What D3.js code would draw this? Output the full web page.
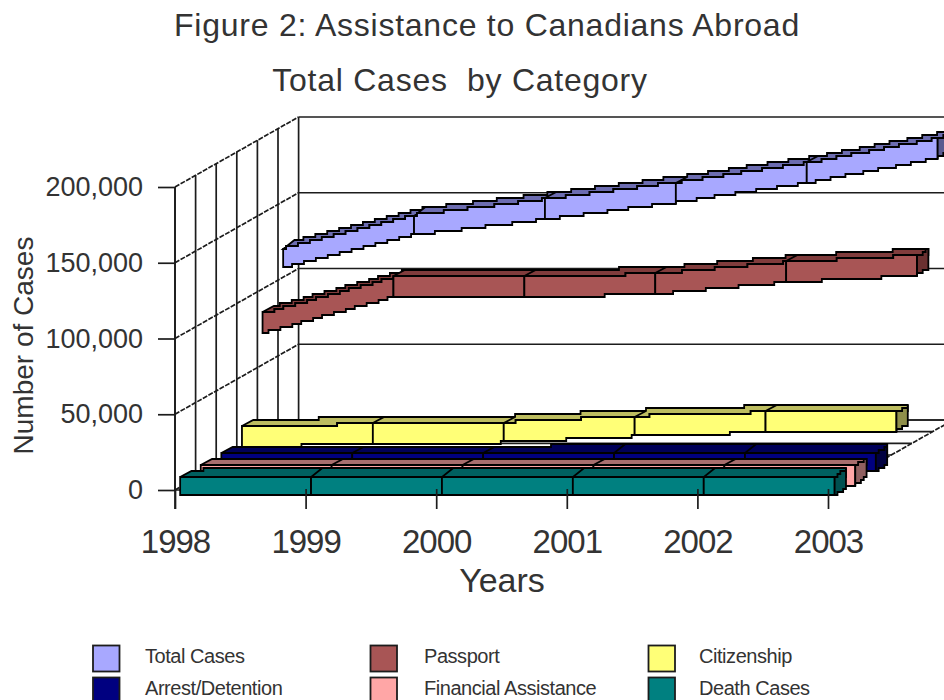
<!DOCTYPE html>
<html>
<head>
<meta charset="utf-8">
<script src="https://cdn.jsdelivr.net/npm/d3@7"></script>
<style>
  html, body { margin: 0; padding: 0; background: #fff; }
  svg { display: block; font-family: "Liberation Sans", Arial, sans-serif; }
  text { fill: #333; }
</style>
</head>
<body>
<svg id="chart" width="944" height="700"></svg>
<script>
// Assistance to Canadians Abroad: cases per year, by category
const years = [1998, 1999, 2000, 2001, 2002, 2003];
const yTicks = [0, 50000, 100000, 150000, 200000];

// Listed front to back along the depth axis
const seriesNames = ["Death Cases", "Financial Assistance", "Arrest/Detention", "Citizenship", "Passport", "Total Cases"];
const deathCases = [600, 650, 700, 700, 750, 750];
const financialAssistance = [400, 500, 500, 600, 600, 600];
const arrestDetention = [900, 1000, 1000, 1100, 1100, 1100];
const citizenship = [10500, 11800, 13100, 17100, 19700, 20100];
const passport = [77200, 101000, 101000, 103300, 111000, 115500];
const totalCases = [112700, 134500, 144800, 156000, 168800, 185000];
const seriesValues = [deathCases, financialAssistance, arrestDetention, citizenship, passport, totalCases];

// Front, top and side shades for each ribbon
const frontColors = ["#008080", "#ffa6a6", "#000080", "#ffff77", "#a85555", "#a8a8ff"];
const topColors = ["#006060", "#a86e6e", "#000058", "#bdbd60", "#803c3c", "#6c6cb0"];
const sideColors = ["#005050", "#906060", "#000040", "#8f8f4a", "#6b3030", "#5a5a90"];

const legendRows = [
  ["Total Cases", "Passport", "Citizenship"],
  ["Arrest/Detention", "Financial Assistance", "Death Cases"]
];

const ink = "#1c1c1c";
const svg = d3.select("#chart");

const x = d3.scalePoint().domain(years).range([175, 829.5]);
const xAxisScale = d3.scalePoint().domain(years).range([175, 828]);
const y = d3.scaleLinear().domain([0, 200000]).range([490, 187]);
const depthX = d3.scaleLinear().domain([0, 6]).range([0, 123.6]);
const depthY = d3.scaleLinear().domain([0, 6]).range([0, -70]);

// Project a (year, value, depth) triple onto the page
const px = (year, depth) => x(year) + depthX(depth);
const py = (value, depth) => y(value) + depthY(depth);

const firstYear = years[0];
const lastYear = years[years.length - 1];
const depthSteps = d3.range(0, 7);

// Ribbon edges are drawn on a coarse pixel grid, as low-resolution chart graphics render them
const cell = 3;
const stepLine = d3.line().curve(d3.curveStepAfter);
const edge = (a, b) => {
  const n = Math.max(1, Math.ceil(Math.abs(b[0] - a[0]) / cell));
  return d3.range(n + 1).map(k => {
    const t = k / n;
    return [a[0] + (b[0] - a[0]) * t, Math.round((a[1] + (b[1] - a[1]) * t) / cell) * cell];
  });
};
const facePath = (p, q, r, s) =>
  stepLine([...edge(p, q), ...edge(r, s)]) + "Z";

// ---- Walls and floor ----
const walls = svg.append("g").attr("fill", "none").attr("stroke", ink).attr("stroke-width", 1.7);
const slantDash = "5 1.4";

yTicks.forEach(v => {
  walls.append("line")
    .attr("stroke-dasharray", slantDash)
    .attr("x1", px(firstYear, 0)).attr("y1", py(v, 0))
    .attr("x2", px(firstYear, 6)).attr("y2", py(v, 6));
  walls.append("line")
    .attr("x1", px(firstYear, 6)).attr("x2", px(lastYear, 6))
    .attr("y1", py(v, 6)).attr("y2", py(v, 6));
});
depthSteps.forEach(d => {
  walls.append("line")
    .attr("x1", px(firstYear, d)).attr("x2", px(firstYear, d))
    .attr("y1", py(200000, d)).attr("y2", py(0, d));
  walls.append("line")
    .attr("x1", px(firstYear, d)).attr("x2", px(lastYear, d))
    .attr("y1", py(0, d)).attr("y2", py(0, d));
});
walls.append("line")
  .attr("stroke-dasharray", slantDash)
  .attr("x1", px(lastYear, 0)).attr("y1", py(0, 0))
  .attr("x2", px(lastYear, 6)).attr("y2", py(0, 6));

// ---- Ribbons, painted from the back row forward ----
const ribbonHeight = 20.5;
const frontDepth = 0.25;
const ribbonDepth = 0.55;

const ribbons = svg.append("g").attr("stroke", "#000").attr("stroke-width", 1.8).attr("stroke-linejoin", "miter");

d3.range(seriesNames.length - 1, -1, -1).forEach(i => {
  const values = seriesValues[i];
  const df = i + frontDepth;
  const db = df + ribbonDepth;
  const row = ribbons.append("g").attr("class", "ribbon");
  const half = ribbonHeight / 2;

  d3.pairs(years.map((yr, j) => ({ yr, v: values[j] }))).forEach(([a, b]) => {
    // top face
    row.append("path").attr("fill", topColors[i]).attr("d", facePath(
      [px(a.yr, df), py(a.v, df) - half],
      [px(b.yr, df), py(b.v, df) - half],
      [px(b.yr, db), py(b.v, db) - half],
      [px(a.yr, db), py(a.v, db) - half]
    ));
    // front face
    row.append("path").attr("fill", frontColors[i]).attr("d", facePath(
      [px(a.yr, df), py(a.v, df) - half],
      [px(b.yr, df), py(b.v, df) - half],
      [px(b.yr, df), py(b.v, df) + half],
      [px(a.yr, df), py(a.v, df) + half]
    ));
  });

  // closing side face at the last year
  const last = values[values.length - 1];
  row.append("path").attr("fill", sideColors[i]).attr("d", facePath(
    [px(lastYear, df), py(last, df) - half],
    [px(lastYear, db), py(last, db) - half],
    [px(lastYear, db), py(last, db) + half],
    [px(lastYear, df), py(last, df) + half]
  ));
});

// ---- Axes ----
const axisStroke = g => {
  g.selectAll(".tick line").attr("stroke", ink).attr("stroke-width", 1.7);
};

svg.append("g")
  .attr("transform", "translate(175,0)")
  .call(d3.axisLeft(y).tickValues(yTicks).tickSize(17).tickPadding(15)
    .tickFormat(d3.format(",")))
  .call(axisStroke)
  .call(g => g.select(".domain").remove())
  .call(g => g.selectAll("text").attr("font-size", 27).attr("font-family", null).attr("fill", "#333"));

svg.append("line").attr("x1", 175).attr("x2", 175).attr("y1", y(200000)).attr("y2", 509)
  .attr("stroke", ink).attr("stroke-width", 1.7);

svg.append("g")
  .attr("transform", "translate(0,489)")
  .call(d3.axisBottom(xAxisScale).tickSize(20).tickPadding(21).tickSizeOuter(0))
  .call(axisStroke)
  .call(g => g.select(".domain").remove())
  .call(g => g.selectAll("text").attr("font-size", 33).attr("letter-spacing", -1).attr("font-family", null).attr("fill", "#333"));

// ---- Titles ----
svg.append("text").attr("x", 487).attr("y", 36).attr("text-anchor", "middle")
  .attr("font-size", 32).attr("letter-spacing", 0.75)
  .text("Figure 2: Assistance to Canadians Abroad");
svg.append("text").attr("x", 460).attr("y", 91).attr("text-anchor", "middle")
  .attr("font-size", 32).attr("letter-spacing", 0.75).style("white-space", "pre")
  .text("Total Cases  by Category");
svg.append("text").attr("x", 502).attr("y", 592).attr("text-anchor", "middle")
  .attr("font-size", 34)
  .text("Years");
svg.append("text")
  .attr("transform", "translate(33,345.5) rotate(-90)")
  .attr("text-anchor", "middle").attr("font-size", 28)
  .text("Number of Cases");

// ---- Legend ----
const columnX = [93, 370.5, 648.5];
const labelX = [145, 424, 699];
const rowY = [645.5, 677.5];
const legend = svg.append("g");
legendRows.forEach((names, r) => {
  names.forEach((name, c) => {
    const s = seriesNames.indexOf(name);
    legend.append("rect")
      .attr("x", columnX[c]).attr("y", rowY[r])
      .attr("width", 26.5).attr("height", 26)
      .attr("fill", frontColors[s]).attr("stroke", ink).attr("stroke-width", 1.8);
    legend.append("text")
      .attr("x", labelX[c]).attr("y", rowY[r] + 17)
      .attr("font-size", 20).attr("letter-spacing", -0.45)
      .text(name);
  });
});
</script>
</body>
</html>
